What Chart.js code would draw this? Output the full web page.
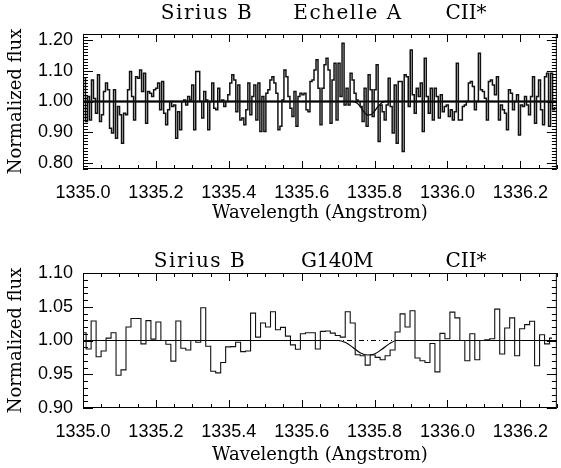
<!DOCTYPE html>
<html>
<head>
<meta charset="utf-8">
<script src="https://cdn.jsdelivr.net/npm/chart.js@4.4.0/dist/chart.umd.min.js"></script>
<style>
  html, body { margin: 0; padding: 0; background: #fff; }
  #wrap { position: relative; width: 561px; height: 468px; }
  canvas { position: absolute; left: 0; }
</style>
</head>
<body>
<div id="wrap">
  <canvas id="chart-echelle" width="561" height="234" style="top:0"></canvas>
  <canvas id="chart-g140m" width="561" height="234" style="top:234px"></canvas>
</div>
<script>
// ── Data ────────────────────────────────────────────────────────────────────
const xTicks = [1335.0, 1335.2, 1335.4, 1335.6, 1335.8, 1336.0, 1336.2];
const yTicksTop = [0.80, 0.90, 1.00, 1.10, 1.20];
const yTicksBottom = [0.90, 0.95, 1.00, 1.05, 1.10];

// Echelle A spectrum: uniform pixel grid, normalized flux per pixel
const echelleStart = 1335.004;   // centre of first pixel (Å)
const echelleStep = 0.0055;      // pixel size (Å)
const echelleFlux = [
  1.076, 0.935, 1.016, 0.94, 1.07, 1.01, 0.962, 1.087, 0.935, 0.957,
  1.033, 1.06, 1.038, 0.913, 0.897, 1.038, 0.88, 0.984, 0.957, 0.864,
  0.962, 0.957, 1.038, 1.098, 1.016, 0.94, 1.081, 1.076, 1.103, 1.033,
  1.092, 0.929, 1.033, 1.027, 1.016, 1.038, 1.043, 1.06, 0.973, 1.065,
  0.962, 0.924, 0.973, 1.0, 0.984, 0.989, 0.88, 0.967, 0.908, 1.0,
  1.005, 0.989, 1.016, 1.005, 1.054, 0.908, 1.098, 1.098, 1.0, 0.946,
  1.033, 1.005, 0.908, 1.0, 1.06, 0.978, 0.973, 1.043, 1.0, 1.005,
  0.984, 1.0, 1.022, 1.06, 1.087, 1.07, 0.967, 1.054, 0.94, 0.946,
  0.924, 0.973, 1.06, 0.957, 1.016, 1.054, 0.94, 1.06, 0.902, 1.016,
  0.902, 1.027, 1.038, 1.07, 1.081, 1.06, 1.027, 0.908, 0.919, 1.005,
  1.103, 1.081, 1.016, 0.978, 0.951, 1.033, 0.919, 1.016, 1.027, 1.022,
  1.027, 0.973,
  0.967, 1.065, 1.07, 1.103, 1.136, 1.043, 0.924, 1.043, 1.12, 1.141,
  1.103, 0.929, 1.07, 1.125, 0.94, 1.125, 1.016, 1.19, 0.989, 1.043,
  0.989, 1.092, 1.07, 1.027, 1.005, 1.0, 0.984, 0.935, 1.043, 0.919,
  1.087, 1.038, 0.951, 1.038, 1.12, 0.87, 0.989, 0.967, 0.94, 0.989,
  1.076, 0.984, 0.897, 1.054, 0.864, 1.065, 1.065, 0.837, 1.087, 1.081,
  0.984, 1.168, 1.022, 0.962, 1.043, 1.016, 1.06, 0.902, 1.141, 1.016,
  0.962, 1.043, 0.94, 1.043, 1.016, 0.946, 1.022, 0.967, 0.984, 0.989,
  0.951, 0.973, 0.94, 0.967, 1.125, 0.94, 0.94, 0.984, 0.989, 1.0,
  1.06, 1.065, 1.049, 0.973, 1.0, 1.157, 1.038, 1.033, 1.011, 0.94,
  1.065, 1.07, 1.054, 1.022, 1.081, 0.94, 0.989, 0.973, 0.962, 0.908,
  1.038, 1.027, 0.973, 1.0, 1.022, 0.891, 0.989, 0.984, 1.016, 0.989,
  0.957, 1.016, 1.081, 0.929, 1.016, 1.07, 0.973, 0.924, 1.081, 1.092,
  0.919, 1.092, 0.973, 0.98,
];

// G140M spectrum: coarser pixels
const g140Start = 1335.0018;
const g140Step = 0.01367;
const g140Flux = [
  1.0115, 0.9875, 1.029, 0.976, 0.9845, 1.0035, 1.0115, 0.9485, 0.9565, 1.02,
  1.0325, 1.0325, 0.995, 1.0295, 1.002, 1.0275, 1.0, 0.9945, 0.9695, 1.029,
  0.9885, 0.986, 1.0, 0.9975, 1.0485, 0.9915, 0.9545, 0.952, 0.9675, 0.9905,
  0.991, 0.9975, 0.9835, 0.9845, 1.0405, 1.005, 1.026, 1.02, 1.0425, 1.016,
  1.0195, 1.0065, 0.9935, 0.987, 1.01, 1.0115, 1.0115, 0.9875, 1.0135, 1.014,
  1.011, 1.0075, 1.005, 1.0425, 1.026, 0.979, 0.9775, 0.9635, 0.9785, 0.975,
  0.9715, 0.9775, 0.986, 1.0125, 1.0395, 1.02, 1.044, 0.974, 0.97, 0.9675,
  0.9955, 0.9535, 1.0105, 1.0025, 1.042, 1.0335, 1.0, 0.97, 1.01, 0.9715,
  1.0, 1.001, 1.0025, 1.0465, 0.98, 1.0185, 1.0335, 0.9775, 1.0175, 1.0235,
  1.0285, 0.9625, 1.0085, 0.995, 1.0035,
];

// Continuum and CII* absorption model
const continuumX = [1335.0, 1336.3];
const continuumY = [1.0, 1.0];
const echelleModelX = [1335.0, 1335.74, 1335.75, 1335.76, 1335.77, 1335.78, 1335.79, 1335.80, 1335.81, 1335.82, 1335.83, 1336.3];
const echelleModelY = [1.0, 1.0, 0.996, 0.985, 0.967, 0.956, 0.957, 0.969, 0.985, 0.996, 1.0, 1.0];
const g140ModelX = [1335.0, 1335.70, 1335.72, 1335.74, 1335.76, 1335.78, 1335.80, 1335.82, 1335.84, 1335.86, 1336.3];
const g140ModelY = [1.0, 1.0, 0.997, 0.99, 0.982, 0.9785, 0.98, 0.987, 0.995, 1.0, 1.0];

// Panel titles: three words spread over the top of each panel
const echelleTitle = ["Sirius B", "Echelle A", "CII*"];
const g140Title = ["Sirius B", "G140M", "CII*"];

// ── Helpers ────────────────────────────────────────────────────────────────
const pts = (xs, ys) => xs.map((x, i) => ({ x, y: ys[i] }));
const grid = (start, step, ys) => ys.map((y, i) => ({ x: start + i * step, y }));

const SANS = "'Liberation Sans', Arial, sans-serif";
const SERIF = "'DejaVu Serif', serif";

// Frame with inward ticks on all four sides, plus the panel title
const framePlugin = {
  id: "frame",
  afterDatasetsDraw(chart, args, opts) {
    const { ctx, chartArea: a, scales: { x, y } } = chart;
    ctx.save();
    ctx.strokeStyle = "#000";
    ctx.lineWidth = 1;
    ctx.strokeRect(a.left + 0.5, a.top + 0.5, a.right - a.left - 1, a.bottom - a.top - 1);
    ctx.beginPath();
    const nx = Math.round((x.max - x.min) / opts.xMinor);
    for (let i = 0; i <= nx; i++) {
      const v = x.min + i * opts.xMinor;
      const major = opts.xMajor.some(m => Math.abs(m - v) < 1e-6);
      const len = major ? 8 : 4;
      const px = Math.round(x.getPixelForValue(v)) + 0.5;
      ctx.moveTo(px, a.bottom); ctx.lineTo(px, a.bottom - len);
      ctx.moveTo(px, a.top); ctx.lineTo(px, a.top + len);
    }
    const ny = Math.round((y.max - y.min) / opts.yMinor);
    for (let i = 0; i <= ny; i++) {
      const v = y.min + i * opts.yMinor;
      const major = opts.yMajor.some(m => Math.abs(m - v) < 1e-6);
      const len = major ? 10 : 5;
      const py = Math.round(y.getPixelForValue(v)) + 0.5;
      ctx.moveTo(a.left, py); ctx.lineTo(a.left + len, py);
      ctx.moveTo(a.right, py); ctx.lineTo(a.right - len, py);
    }
    ctx.stroke();
    ctx.restore();
  },
  afterDraw(chart, args, opts) {
    const { ctx } = chart;
    ctx.save();
    ctx.fillStyle = "#000";
    ctx.font = "20px " + SERIF;
    ctx.textAlign = "center";
    ctx.textBaseline = "middle";
    opts.title.forEach((t, i) => {
      ctx.letterSpacing = opts.titleSpacing[i] + "px";
      ctx.fillText(t, opts.titleX[i], opts.titleY);
    });
    ctx.restore();
  },
};

function axes(yMin, yMax, yTicks, xHeight, xTitlePad) {
  return {
    x: {
      type: "linear", min: 1335.0, max: 1336.3,
      afterBuildTicks: s => { s.ticks = xTicks.map(v => ({ value: v })); },
      afterFit: s => { s.height = xHeight; },
      grid: { display: false, drawTicks: false },
      border: { display: false },
      ticks: {
        autoSkip: false, maxRotation: 0, padding: 13, color: "#000",
        font: { family: SANS, size: 18 },
        callback: v => Number(v).toFixed(1),
      },
      title: {
        display: true, text: "Wavelength (Angstrom)", color: "#000",
        font: { family: SERIF, size: 18 }, padding: { top: 0, bottom: xTitlePad },
      },
    },
    y: {
      min: yMin, max: yMax,
      afterBuildTicks: s => { s.ticks = yTicks.map(v => ({ value: v })); },
      afterFit: s => { s.width = 83; },
      grid: { display: false, drawTicks: false },
      border: { display: false },
      ticks: {
        padding: 10, color: "#000",
        font: { family: SANS, size: 18 },
        callback: v => Number(v).toFixed(2),
      },
      title: {
        display: true, text: "Normalized flux", color: "#000",
        font: { family: SERIF, size: 18 }, padding: { top: 6, bottom: 0 },
      },
    },
  };
}

// ── 1. Echelle A ───────────────────────────────────────────────────────────
new Chart(document.getElementById("chart-echelle"), {
  type: "line",
  data: {
    datasets: [
      {
        label: "Echelle A",
        data: grid(echelleStart, echelleStep, echelleFlux),
        stepped: "middle",
        borderColor: "#111",
        borderWidth: 1.5,
        pointRadius: 0,
      },
      {
        label: "Continuum",
        data: pts(continuumX, continuumY),
        borderColor: "#000",
        borderWidth: 2,
        pointRadius: 0,
      },
      {
        label: "Model",
        data: pts(echelleModelX, echelleModelY),
        borderColor: "#000",
        borderWidth: 1.3,
        pointRadius: 0,
        cubicInterpolationMode: "monotone",
      },
    ],
  },
  options: {
    responsive: false,
    animation: false,
    layout: { padding: { top: 34, right: 1, bottom: 0, left: 0 } },
    plugins: {
      legend: { display: false },
      tooltip: { enabled: false },
      frame: {
        title: echelleTitle, titleX: [207, 348, 466], titleY: 14, titleSpacing: [1.5, 1.5, 0],
        xMajor: xTicks, xMinor: 0.05, yMajor: yTicksTop, yMinor: 0.01,
      },
    },
    scales: axes(0.78, 1.22, yTicksTop, 65, 10),
  },
  plugins: [framePlugin],
});

// ── 2. G140M ───────────────────────────────────────────────────────────────
new Chart(document.getElementById("chart-g140m"), {
  type: "line",
  data: {
    datasets: [
      {
        label: "G140M",
        data: grid(g140Start, g140Step, g140Flux),
        stepped: "middle",
        borderColor: "#111",
        borderWidth: 1.1,
        pointRadius: 0,
      },
      {
        label: "Continuum",
        data: pts(continuumX, continuumY),
        borderColor: "#000",
        borderWidth: 1,
        borderDash: [5, 3, 1, 3],
        pointRadius: 0,
      },
      {
        label: "Model",
        data: pts(g140ModelX, g140ModelY),
        borderColor: "#000",
        borderWidth: 1.1,
        pointRadius: 0,
        cubicInterpolationMode: "monotone",
      },
    ],
  },
  options: {
    responsive: false,
    animation: false,
    layout: { padding: { top: 39, right: 1, bottom: 0, left: 0 } },
    plugins: {
      legend: { display: false },
      tooltip: { enabled: false },
      frame: {
        title: g140Title, titleX: [200, 337, 466], titleY: 28, titleSpacing: [1.5, -0.5, 0],
        xMajor: xTicks, xMinor: 0.05, yMajor: yTicksBottom, yMinor: 0.01,
      },
    },
    scales: axes(0.90, 1.10, yTicksBottom, 60, 2),
  },
  plugins: [framePlugin],
});
</script>
</body>
</html>
